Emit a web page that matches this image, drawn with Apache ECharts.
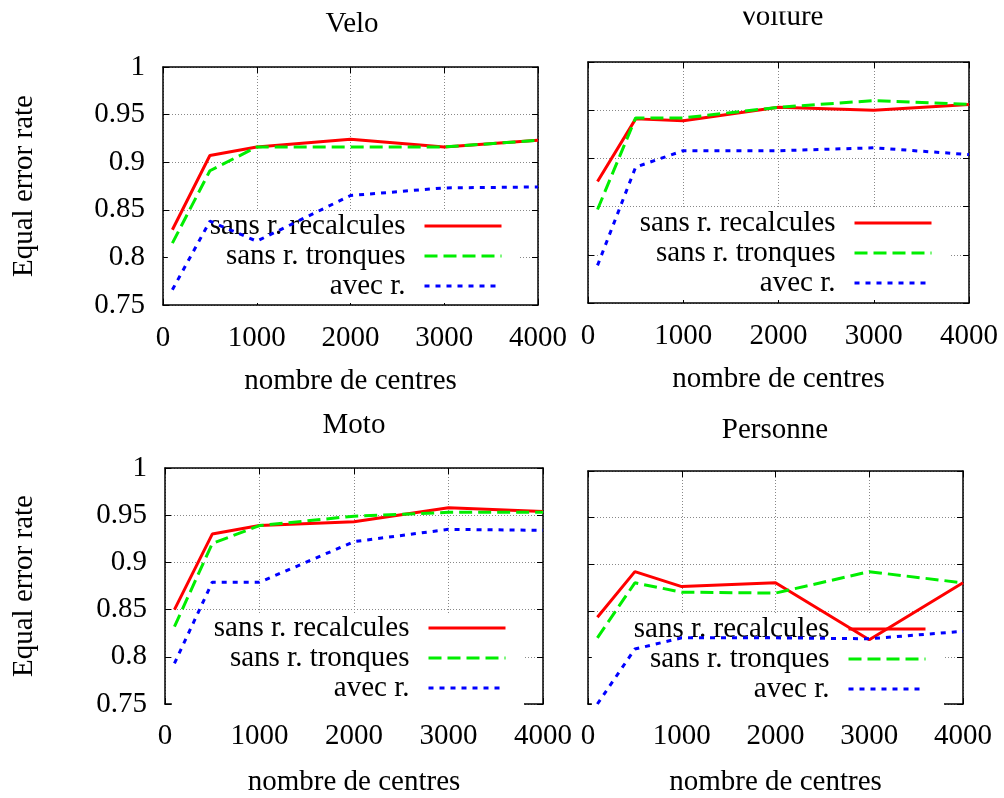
<!DOCTYPE html>
<html>
<head>
<meta charset="utf-8">
<script src="https://cdn.jsdelivr.net/npm/echarts@6/dist/echarts.min.js"></script>
<style>
html,body{margin:0;padding:0;background:#fff;}
#main{width:1004px;height:798px;}
</style>
</head>
<body>
<div id="main"></div>
<script>
// ---- data ----
const centres = [100, 500, 1000, 2000, 3000, 4000];
const seriesNames = ['sans r. recalcules', 'sans r. tronques', 'avec r.'];
const panelTitles = ['Velo', 'Voiture', 'Moto', 'Personne'];
const xTicks = [0, 1000, 2000, 3000, 4000];
const yTicks = [0.75, 0.8, 0.85, 0.9, 0.95, 1];
const xAxisLabel = 'nombre de centres';
const yAxisLabel = 'Equal error rate';

const veloRecalc   = [0.829, 0.907, 0.916, 0.924, 0.916, 0.923];
const veloTronq    = [0.815, 0.891, 0.916, 0.916, 0.916, 0.923];
const veloAvec     = [0.766, 0.838, 0.817, 0.865, 0.873, 0.874];

const voitureRecalc = [0.876, 0.941, 0.939, 0.953, 0.950, 0.956];
const voitureTronq  = [0.847, 0.942, 0.942, 0.953, 0.960, 0.956];
const voitureAvec   = [0.789, 0.891, 0.908, 0.908, 0.911, 0.904];

const motoRecalc   = [0.850, 0.930, 0.939, 0.943, 0.958, 0.954];
const motoTronq    = [0.832, 0.920, 0.939, 0.949, 0.953, 0.953];
const motoAvec     = [0.793, 0.879, 0.879, 0.922, 0.935, 0.934];

const personneRecalc = [0.843, 0.892, 0.876, 0.880, 0.819, 0.880];
const personneTronq  = [0.821, 0.880, 0.870, 0.869, 0.892, 0.880];
const personneAvec   = [0.750, 0.809, 0.821, 0.821, 0.820, 0.828];

const panelData = [
  [veloRecalc, veloTronq, veloAvec],
  [voitureRecalc, voitureTronq, voitureAvec],
  [motoRecalc, motoTronq, motoAvec],
  [personneRecalc, personneTronq, personneAvec]
];

// ---- layout / style ----
const FONT = 'Liberation Serif';
const FS = 29;
const grids = [
  {left: 163, top: 67, width: 375, height: 238},
  {left: 588, top: 62, width: 381, height: 241},
  {left: 165, top: 468, width: 378, height: 239},
  {left: 588, top: 471, width: 375, height: 237}
];
const titlePos = [
  {x: 352, y: 10}, {x: 781, y: 3}, {x: 354, y: 411}, {x: 775, y: 416}
];
const legendPos = [
  {right: 484, top: 211}, {right: 54, top: 208}, {right: 480, top: 613}, {right: 60, top: 614}
];
const xNameGap = [62, 62, 64, 64];
const xLabelMargin = [19, 19, 18, 18];
const yNameGap = [124, 0, 126, 0];
const styles = [
  {color: '#ff0000', type: 'solid'},
  {color: '#00ee00', type: [13, 6]},
  {color: '#0000ff', type: [5, 6]}
];

const xMin = xTicks[0], xMax = xTicks[xTicks.length - 1];
const yMin = yTicks[0], yMax = yTicks[yTicks.length - 1];
const xInt = xTicks[1] - xTicks[0];
const yInt = +(yTicks[1] - yTicks[0]).toFixed(4);

const option = {
  backgroundColor: '#fff',
  animation: false,
  textStyle: {fontFamily: FONT},
  title: [], grid: [], xAxis: [], yAxis: [], legend: [], series: [],
  graphic: [{
    type: 'rect', left: 700, top: 0, z: 100,
    shape: {width: 170, height: 11.5},
    style: {fill: '#fff'}
  }]
};

const splitLine = {show: true, lineStyle: {color: '#888', type: [1, 2], width: 1}};
const axisLine = {show: true, onZero: false, lineStyle: {color: '#000', width: 1.5}};
const axisTick = {show: true, inside: true, length: 6, lineStyle: {color: '#000', width: 1}};
const plainNum = v => String(+v.toFixed(4));

for (let p = 0; p < 4; p++) {
  const g = grids[p];
  option.grid.push(Object.assign({containLabel: false, show: false}, g));
  option.title.push({
    text: panelTitles[p], left: titlePos[p].x, top: titlePos[p].y, textAlign: 'center', padding: 0,
    textStyle: {fontFamily: FONT, fontSize: FS, fontWeight: 'normal', color: '#000'}
  });
  // bottom x axis
  option.xAxis.push({
    type: 'value', gridIndex: p, min: xMin, max: xMax, interval: xInt, position: 'bottom',
    axisLine, axisTick, splitLine,
    axisLabel: {show: true, margin: xLabelMargin[p], fontFamily: FONT, fontSize: FS, color: '#000', formatter: plainNum},
    name: xAxisLabel, nameLocation: 'middle', nameGap: xNameGap[p],
    nameTextStyle: {fontFamily: FONT, fontSize: FS, color: '#000'}
  });
  // top mirror x axis
  option.xAxis.push({
    type: 'value', gridIndex: p, min: xMin, max: xMax, interval: xInt, position: 'top',
    axisLine, axisTick, splitLine: {show: false}, axisLabel: {show: false}
  });
  const leftY = {
    type: 'value', gridIndex: p, min: yMin, max: yMax, interval: yInt, position: 'left',
    axisLine, axisTick, splitLine,
    axisLabel: {show: p % 2 === 0, margin: 18, fontFamily: FONT, fontSize: FS, color: '#000', formatter: plainNum}
  };
  if (p % 2 === 0) {
    Object.assign(leftY, {
      name: yAxisLabel, nameLocation: 'middle', nameGap: yNameGap[p], nameRotate: 90,
      nameTextStyle: {fontFamily: FONT, fontSize: FS, color: '#000'}
    });
  }
  option.yAxis.push(leftY);
  option.yAxis.push({
    type: 'value', gridIndex: p, min: yMin, max: yMax, interval: yInt, position: 'right',
    axisLine, axisTick, splitLine: {show: false}, axisLabel: {show: false}
  });
  for (let s = 0; s < 3; s++) {
    option.series.push({
      type: 'line', name: seriesNames[s], xAxisIndex: p * 2, yAxisIndex: p * 2,
      symbol: 'none', z: 3,
      lineStyle: {color: styles[s].color, width: 3, type: styles[s].type},
      itemStyle: {color: styles[s].color},
      data: centres.map((c, i) => [c, panelData[p][s][i]])
    });
  }
  option.legend.push({
    data: seriesNames, orient: 'vertical', align: 'right',
    right: legendPos[p].right, top: legendPos[p].top,
    padding: [0, 17, 2, 42], backgroundColor: '#fff', z: 1,
    itemWidth: 77, itemHeight: 14, itemGap: 0,
    lineStyle: {width: 3},
    itemStyle: {opacity: 0, color: 'rgba(0,0,0,0)', borderWidth: 0},
    selectedMode: false,
    textStyle: {fontFamily: FONT, fontSize: FS, color: '#000', lineHeight: 30, padding: [0, 14, 0, 0]}
  });
}

const chart = echarts.init(document.getElementById('main'), null, {renderer: 'canvas'});
chart.setOption(option);
</script>
</body>
</html>
